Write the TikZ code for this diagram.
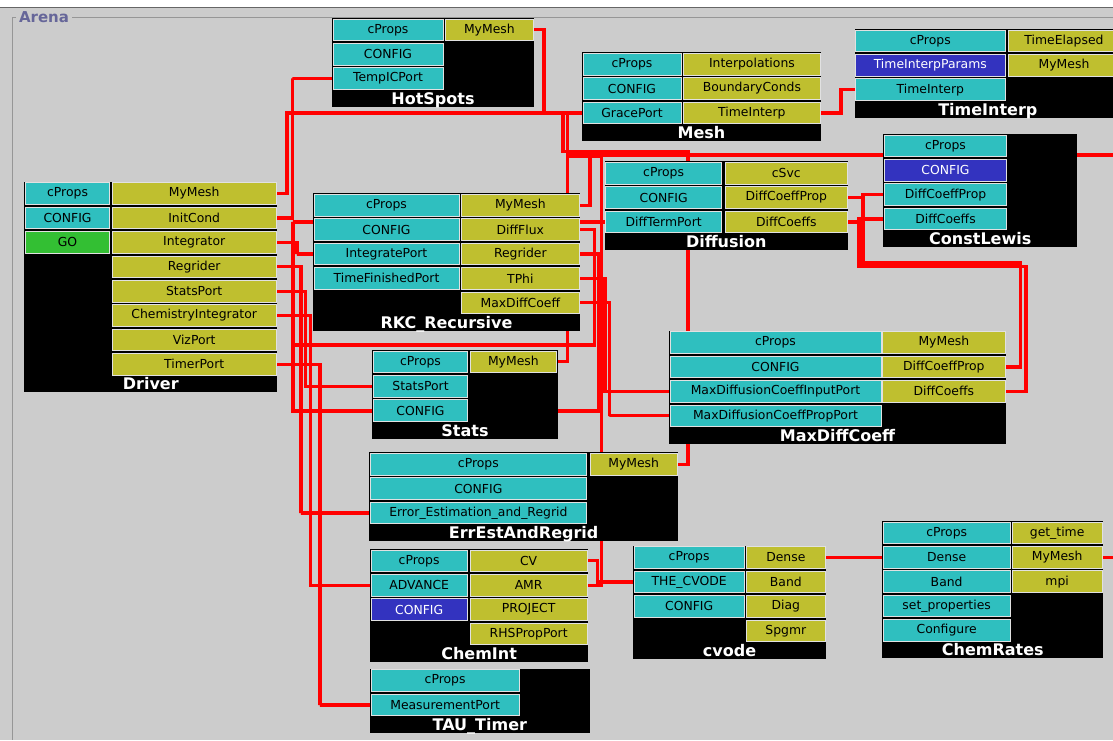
\documentclass[tikz,border=0pt]{standalone}
\usepackage{fontspec}
\setmainfont{DejaVu Sans}
\pgfdeclarelayer{back}
\pgfdeclarelayer{wires}
\pgfsetlayers{back,wires,main}
\definecolor{arenabg}{RGB}{204,204,204}
\definecolor{provcol}{RGB}{47,191,191}
\definecolor{usescol}{RGB}{191,191,47}
\definecolor{gocol}{RGB}{51,191,51}
\definecolor{cfgcol}{RGB}{51,51,191}
\definecolor{cellrim}{RGB}{225,225,225}
\definecolor{framecol}{RGB}{150,150,150}
\definecolor{arenatxt}{RGB}{102,102,153}
\begin{document}
\begin{tikzpicture}[x=1pt,y=-1pt]
\newcommand{\rowstep}{24.4}
\tikzstyle{cellbase}=[draw=cellrim,line width=0.8pt,anchor=north west,minimum height=21.6pt,inner sep=0pt,outer sep=0pt,font=\fontsize{12.4}{14}\selectfont]
\tikzstyle{prov}=[cellbase,fill=provcol]
\tikzstyle{provgo}=[cellbase,fill=gocol]
\tikzstyle{provcfg}=[cellbase,fill=cfgcol,text=white]
\tikzstyle{uses}=[cellbase,fill=usescol]
\tikzstyle{body}=[fill=black,anchor=north west,inner sep=0pt,outer sep=0pt]
\tikzstyle{ttl}=[anchor=base,text=white,inner sep=0pt,font=\bfseries\fontsize{16}{18}\selectfont]
\tikzstyle{wire}=[draw=red,line width=3.2pt]
\newcommand{\cell}[7]{\node[#1,minimum width=#6pt] (#2) at (#3,{#4+\rowstep*#5}) {#7};}
\newcommand{\comp}[6]{\node[body,minimum width={#4-#2},minimum height={#5-#3}] (#1) at (#2,#3) {};
  \node[ttl] (#1-t) at ({(#2+#4)/2},{#5-2.5}) {#6};}
\useasboundingbox (0,0) rectangle (1113,740);
\begin{pgfonlayer}{back}
\fill[arenabg] (0,0) rectangle (1113,740);
\fill[white] (0,0) rectangle (1113,7);
\draw[black!60,line width=1.5pt] (0,7.5) -- (1113,7.5);
\draw[framecol,line width=1pt] (16,17.5) -- (12,17.5) -- (12,740);
\draw[framecol,line width=1pt] (72,17.5) -- (1113,17.5);
\end{pgfonlayer}
\node[text=arenatxt,font=\bfseries\fontsize{15}{17}\selectfont,inner sep=0pt] (arena) at (44,17.5) {Arena};

% components
\comp{drv}{24.3}{181.7}{277.3}{392.3}{Driver}
\cell{prov}{drv-cProps}{25.3}{182.7}{0}{84.5}{cProps}
\cell{prov}{drv-CONFIG}{25.3}{182.7}{1}{84.5}{CONFIG}
\cell{provgo}{drv-GO}{25.3}{182.7}{2}{84.5}{GO}
\cell{uses}{drv-MyMesh}{112.1}{182.7}{0}{164.2}{MyMesh}
\cell{uses}{drv-InitCond}{112.1}{182.7}{1}{164.2}{InitCond}
\cell{uses}{drv-Integrator}{112.1}{182.7}{2}{164.2}{Integrator}
\cell{uses}{drv-Regrider}{112.1}{182.7}{3}{164.2}{Regrider}
\cell{uses}{drv-StatsPort}{112.1}{182.7}{4}{164.2}{StatsPort}
\cell{uses}{drv-ChemInteg}{112.1}{182.7}{5}{164.2}{ChemistryIntegrator}
\cell{uses}{drv-VizPort}{112.1}{182.7}{6}{164.2}{VizPort}
\cell{uses}{drv-TimerPort}{112.1}{182.7}{7}{164.2}{TimerPort}

\comp{hot}{332}{18}{534}{106.6}{HotSpots}
\cell{prov}{hot-cProps}{333}{19}{0}{110}{cProps}
\cell{prov}{hot-CONFIG}{333}{19}{1}{110}{CONFIG}
\cell{prov}{hot-TempICPort}{333}{19}{2}{110}{TempICPort}
\cell{uses}{hot-MyMesh}{445.7}{19}{0}{87.3}{MyMesh}

\comp{msh}{582}{52.3}{821}{140.9}{Mesh}
\cell{prov}{msh-cProps}{583}{53.3}{0}{98}{cProps}
\cell{prov}{msh-CONFIG}{583}{53.3}{1}{98}{CONFIG}
\cell{prov}{msh-GracePort}{583}{53.3}{2}{98}{GracePort}
\cell{uses}{msh-Interpolations}{683.8}{53.3}{0}{136.2}{Interpolations}
\cell{uses}{msh-BoundaryConds}{683.8}{53.3}{1}{136.2}{BoundaryConds}
\cell{uses}{msh-TimeInterp}{683.8}{53.3}{2}{136.2}{TimeInterp}

\comp{tin}{854.6}{29}{1121}{117.6}{TimeInterp}
\cell{prov}{tin-cProps}{855.6}{30}{0}{149.4}{cProps}
\cell{provcfg}{tin-TimeInterpParams}{855.6}{30}{1}{149.4}{TimeInterpParams}
\cell{prov}{tin-TimeInterp}{855.6}{30}{2}{149.4}{TimeInterp}
\cell{uses}{tin-TimeElapsed}{1008}{30}{0}{112}{TimeElapsed}
\cell{uses}{tin-MyMesh}{1008}{30}{1}{112}{MyMesh}

\comp{cle}{883.3}{134}{1077.3}{247}{ConstLewis}
\cell{prov}{cle-cProps}{884.3}{135}{0}{122.4}{cProps}
\cell{provcfg}{cle-CONFIG}{884.3}{135}{1}{122.4}{CONFIG}
\cell{prov}{cle-DiffCoeffProp}{884.3}{135}{2}{122.4}{DiffCoeffProp}
\cell{prov}{cle-DiffCoeffs}{884.3}{135}{3}{122.4}{DiffCoeffs}

\comp{dif}{604.5}{161.3}{848}{249.9}{Diffusion}
\cell{prov}{dif-cProps}{605.5}{162.3}{0}{116.3}{cProps}
\cell{prov}{dif-CONFIG}{605.5}{162.3}{1}{116.3}{CONFIG}
\cell{prov}{dif-DiffTermPort}{605.5}{162.3}{2}{116.3}{DiffTermPort}
\cell{uses}{dif-cSvc}{725.6}{162.3}{0}{121.4}{cSvc}
\cell{uses}{dif-DiffCoeffProp}{725.6}{162.3}{1}{121.4}{DiffCoeffProp}
\cell{uses}{dif-DiffCoeffs}{725.6}{162.3}{2}{121.4}{DiffCoeffs}

\comp{mdc}{669}{330.7}{1006}{443.7}{MaxDiffCoeff}
\cell{prov}{mdc-cProps}{670}{331.7}{0}{211}{cProps}
\cell{prov}{mdc-CONFIG}{670}{331.7}{1}{211}{CONFIG}
\cell{prov}{mdc-Input}{670}{331.7}{2}{211}{MaxDiffusionCoeffInputPort}
\cell{prov}{mdc-PropPort}{670}{331.7}{3}{211}{MaxDiffusionCoeffPropPort}
\cell{uses}{mdc-MyMesh}{882.7}{331.7}{0}{122.3}{MyMesh}
\cell{uses}{mdc-DiffCoeffProp}{882.7}{331.7}{1}{122.3}{DiffCoeffProp}
\cell{uses}{mdc-DiffCoeffs}{882.7}{331.7}{2}{122.3}{DiffCoeffs}

\comp{rkc}{313}{193.3}{580}{330.7}{RKC\_Recursive}
\cell{prov}{rkc-cProps}{314}{194.3}{0}{145}{cProps}
\cell{prov}{rkc-CONFIG}{314}{194.3}{1}{145}{CONFIG}
\cell{prov}{rkc-IntegratePort}{314}{194.3}{2}{145}{IntegratePort}
\cell{prov}{rkc-TimeFinishedPort}{314}{194.3}{3}{145}{TimeFinishedPort}
\cell{uses}{rkc-MyMesh}{461.7}{194.3}{0}{117.3}{MyMesh}
\cell{uses}{rkc-DiffFlux}{461.7}{194.3}{1}{117.3}{DiffFlux}
\cell{uses}{rkc-Regrider}{461.7}{194.3}{2}{117.3}{Regrider}
\cell{uses}{rkc-TPhi}{461.7}{194.3}{3}{117.3}{TPhi}
\cell{uses}{rkc-MaxDiffCoeff}{461.7}{194.3}{4}{117.3}{MaxDiffCoeff}

\comp{sta}{372.3}{350}{557.7}{438.6}{Stats}
\cell{prov}{sta-cProps}{373.3}{351}{0}{94.4}{cProps}
\cell{prov}{sta-StatsPort}{373.3}{351}{1}{94.4}{StatsPort}
\cell{prov}{sta-CONFIG}{373.3}{351}{2}{94.4}{CONFIG}
\cell{uses}{sta-MyMesh}{470}{351}{0}{86.7}{MyMesh}

\comp{err}{369}{452.3}{678.3}{541}{ErrEstAndRegrid}
\cell{prov}{err-cProps}{370}{453.3}{0}{216.7}{cProps}
\cell{prov}{err-CONFIG}{370}{453.3}{1}{216.7}{CONFIG}
\cell{prov}{err-EER}{370}{453.3}{2}{216.7}{Error\_Estimation\_and\_Regrid}
\cell{uses}{err-MyMesh}{590}{453.3}{0}{87.3}{MyMesh}

\comp{cin}{370}{549}{588.3}{662}{ChemInt}
\cell{prov}{cin-cProps}{371}{550}{0}{96.3}{cProps}
\cell{prov}{cin-ADVANCE}{371}{550}{1}{96.3}{ADVANCE}
\cell{provcfg}{cin-CONFIG}{371}{550}{2}{96.3}{CONFIG}
\cell{uses}{cin-CV}{470}{550}{0}{117.3}{CV}
\cell{uses}{cin-AMR}{470}{550}{1}{117.3}{AMR}
\cell{uses}{cin-PROJECT}{470}{550}{2}{117.3}{PROJECT}
\cell{uses}{cin-RHSPropPort}{470}{550}{3}{117.3}{RHSPropPort}

\comp{tau}{370}{668.7}{589.7}{732.9}{TAU\_Timer}
\cell{prov}{tau-cProps}{371}{669.7}{0}{148.3}{cProps}
\cell{prov}{tau-MeasurementPort}{371}{669.7}{1}{148.3}{MeasurementPort}

\comp{cvo}{633}{545.7}{826}{658.7}{cvode}
\cell{prov}{cvo-cProps}{634}{546.7}{0}{110.3}{cProps}
\cell{prov}{cvo-CVODE}{634}{546.7}{1}{110.3}{THE\_CVODE}
\cell{prov}{cvo-CONFIG}{634}{546.7}{2}{110.3}{CONFIG}
\cell{uses}{cvo-Dense}{746.7}{546.7}{0}{78.3}{Dense}
\cell{uses}{cvo-Band}{746.7}{546.7}{1}{78.3}{Band}
\cell{uses}{cvo-Diag}{746.7}{546.7}{2}{78.3}{Diag}
\cell{uses}{cvo-Spgmr}{746.7}{546.7}{3}{78.3}{Spgmr}

\comp{crt}{882.3}{521}{1103.3}{658.4}{ChemRates}
\cell{prov}{crt-cProps}{883.3}{522}{0}{126.7}{cProps}
\cell{prov}{crt-Dense}{883.3}{522}{1}{126.7}{Dense}
\cell{prov}{crt-Band}{883.3}{522}{2}{126.7}{Band}
\cell{prov}{crt-setprop}{883.3}{522}{3}{126.7}{set\_properties}
\cell{prov}{crt-Configure}{883.3}{522}{4}{126.7}{Configure}
\cell{uses}{crt-gettime}{1012}{522}{0}{90.3}{get\_time}
\cell{uses}{crt-MyMesh}{1012}{522}{1}{90.3}{MyMesh}
\cell{uses}{crt-mpi}{1012}{522}{2}{90.3}{mpi}

% connections, drawn under the components
\begin{pgfonlayer}{wires}
\draw[wire] (drv-MyMesh.east) -| (287,113) |- (msh-GracePort.west);
\draw[wire] (hot-MyMesh.east) -| (544,113) |- (msh-GracePort.west);
\draw[wire] (sta-MyMesh.east) -| (567.5,113) |- (msh-GracePort.west);
\draw[wire] (rkc-MyMesh.east) -| (590,151.7) -| (563,113) |- (msh-GracePort.west);
\draw[wire] (err-MyMesh.east) -| (688,151.7) -| (563,113) |- (msh-GracePort.west);
\draw[wire] (cin-AMR.east) -| (601.5,156.5) -| (567.5,113) |- (msh-GracePort.west);
\draw[wire] (crt-MyMesh.east) -| (1125,155) -| (567.5,113) |- (msh-GracePort.west);
\draw[wire] (msh-TimeInterp.east) -| (841,89.8) |- (tin-TimeInterp.west);
\draw[wire] (drv-InitCond.east) -| (292.5,78.5) |- (hot-TempICPort.west);
\draw[wire] (drv-Integrator.east) -| (297,254) |- (rkc-IntegratePort.west);
\draw[wire] (drv-Regrider.east) -| (301,513) |- (err-EER.west);
\draw[wire] (drv-StatsPort.east) -| (305.5,386) |- (sta-StatsPort.west);
\draw[wire] (drv-ChemInteg.east) -| (310.5,585) |- (cin-ADVANCE.west);
\draw[wire] (drv-TimerPort.east) -| (320,705) |- (tau-MeasurementPort.west);
\draw[wire] (rkc-DiffFlux.east) -| (594.5,345) -| (293,221.8) |- (dif-DiffTermPort.west);
\draw[wire] (rkc-Regrider.east) -| (599,411) -| (293,345);
\draw[wire] (rkc-TPhi.east) -| (605,391) |- (mdc-Input.west);
\draw[wire] (rkc-MaxDiffCoeff.east) -| (609.5,416) |- (mdc-PropPort.west);
\draw[wire] (cin-CV.east) -| (597.5,581.5) |- (cvo-CVODE.west);
\draw[wire] (cvo-Dense.east) -| (850,557.3) |- (crt-Dense.west);
\draw[wire] (dif-DiffCoeffProp.east) -| (863,195) |- (cle-DiffCoeffProp.west);
\draw[wire] (dif-DiffCoeffs.east) -| (859,219.5) |- (cle-DiffCoeffs.west);
\draw[wire] (mdc-DiffCoeffProp.east) -| (1020.5,263) -| (863,195) |- (cle-DiffCoeffProp.west);
\draw[wire] (mdc-DiffCoeffs.east) -| (1026,266.5) -| (859,219.5) |- (cle-DiffCoeffs.west);
\end{pgfonlayer}
\end{tikzpicture}
\end{document}
